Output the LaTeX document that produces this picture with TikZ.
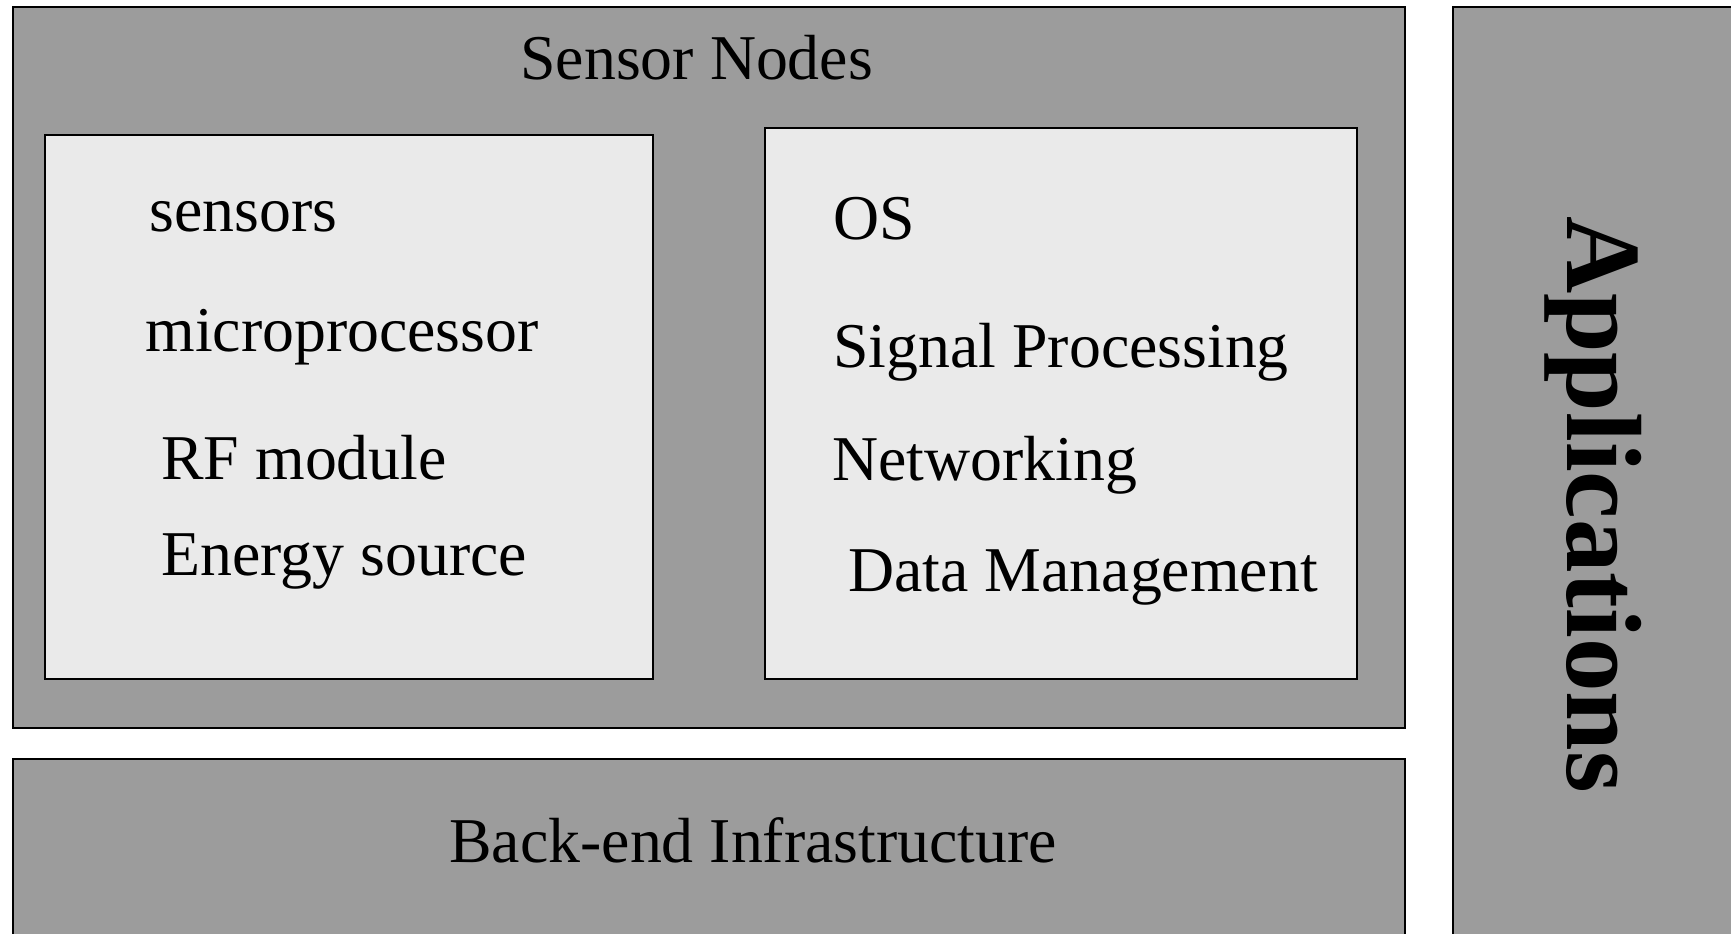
\documentclass[tikz,border=0pt]{standalone}
\usepackage{fontspec}
\setmainfont{Liberation Serif}
\definecolor{layergray}{RGB}{156,156,156}
\definecolor{panelgray}{RGB}{234,234,234}
\begin{document}
\begin{tikzpicture}[x=0.5pt,y=-0.5pt,
  layer/.style={draw=black,line width=0.7pt,fill=layergray},
  panel/.style={draw=black,line width=0.6pt,fill=panelgray},
  item/.style={anchor=base west,inner sep=0pt,font=\fontsize{31.9pt}{38pt}\selectfont},
  title/.style={anchor=base west,inner sep=0pt,font=\fontsize{31.9pt}{38pt}\selectfont}]
\useasboundingbox (0,0) rectangle (1731,933);
\clip (0,0) rectangle (1731,933);
\fill[white] (0,0) rectangle (1731,933);

% layers
\draw[layer] (13,7) rectangle (1405,728);
\draw[layer] (13,759) rectangle (1405,960);
\draw[layer] (1453,7) rectangle (1760,960);

% hardware and software panels
\draw[panel] (45,135) rectangle (653,679);
\draw[panel] (765,128) rectangle (1357,679);

% layer titles
\node[title] (sn) at (520,79) {Sensor Nodes};
\node[title] (be) at (449,862) {Back-end Infrastructure};
\node[anchor=base,inner sep=0pt,rotate=-90,
      font=\fontsize{53.5pt}{60pt}\selectfont\bfseries] (app) at (1567,504.5) {Applications};

% hardware items
\node[item] (hw1) at (149,231) {sensors};
\node[item] (hw2) at (145,351) {microprocessor};
\node[item] (hw3) at (161,479) {RF module};
\node[item] (hw4) at (161,575) {Energy source};

% software items
\node[item] (sw1) at (833,239) {OS};
\node[item] (sw2) at (833,367) {Signal Processing};
\node[item] (sw3) at (832,480) {Networking};
\node[item] (sw4) at (848,591) {Data Management};
\end{tikzpicture}
\end{document}
